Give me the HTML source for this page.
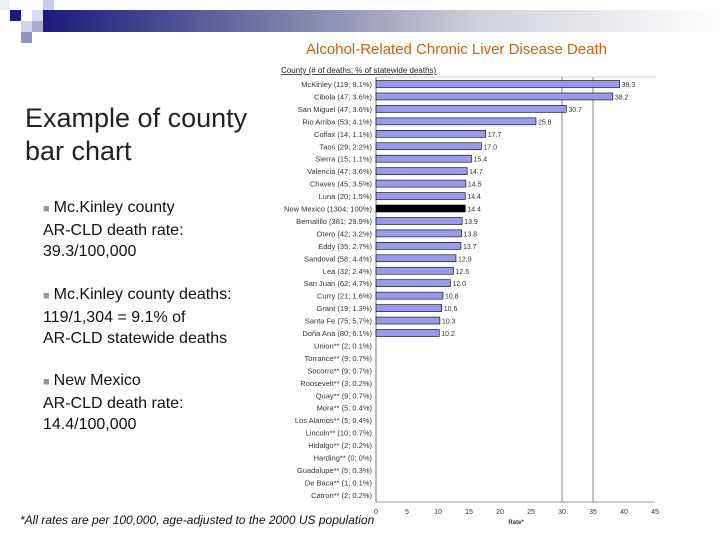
<!DOCTYPE html>
<html><head><meta charset="utf-8">
<style>
body{margin:0;width:720px;height:540px;background:#fff;position:relative;overflow:hidden;font-family:"Liberation Sans",sans-serif}
.abs{position:absolute}
.bul{position:absolute;left:43px;font-size:16px;line-height:21px;color:#111}
.bul span{color:#8a9a9a;font-size:11px;margin-right:4px}
</style></head><body>
<div class="abs" style="left:0;top:0;width:10px;height:10px;background:#eef0f8"></div>
<div class="abs" style="left:10px;top:10px;width:11px;height:11px;background:#1a1a80"></div>
<div class="abs" style="left:43px;top:0;width:11px;height:10px;background:#c8cce4"></div>
<div class="abs" style="left:32px;top:10px;width:11px;height:11px;background:#d8dcee"></div>
<div class="abs" style="left:43px;top:10px;width:11px;height:11px;background:#a0a6d0"></div>
<div class="abs" style="left:21px;top:21px;width:11px;height:11px;background:#d0d4ea"></div>
<div class="abs" style="left:32px;top:21px;width:11px;height:11px;background:#a8acd4"></div>
<div class="abs" style="left:21px;top:32px;width:11px;height:11px;background:#9094c4"></div>
<div class="abs" style="left:43px;top:10px;width:677px;height:22px;background:linear-gradient(90deg,#1a1a7a,#7a7ca8 35%,#d0d2dc 65%,#fff)"></div>
<div class="abs" style="left:306px;top:41px;font-size:15px;color:#d06010">Alcohol-Related Chronic Liver Disease Death</div>
<div class="abs" style="left:25px;top:102px;font-size:27px;line-height:33px;color:#222">Example of county<br>bar chart</div>
<div class="bul" style="top:197px"><span>■</span>Mc.Kinley county<br>AR-CLD death rate:<br>39.3/100,000</div>
<div class="bul" style="top:284px"><span>■</span>Mc.Kinley county deaths:<br>119/1,304 = 9.1% of<br>AR-CLD statewide deaths</div>
<div class="bul" style="top:370px"><span>■</span>New Mexico<br>AR-CLD death rate:<br>14.4/100,000</div>
<div class="abs" style="left:20px;top:513px;font-size:12px;font-style:italic;color:#111">*All rates are per 100,000, age-adjusted to the 2000 US population</div>
<svg class="abs" style="left:0;top:0" width="720" height="540" id="ch"></svg>
<script>
const categories=["McKinley (119; 9.1%)","Cibola (47; 3.6%)","San Miguel (47; 3.6%)","Rio Arriba (53; 4.1%)","Colfax (14; 1.1%)","Taos (29; 2.2%)","Sierra (15; 1.1%)","Valencia (47; 3.6%)","Chaves (45; 3.5%)","Luna (20; 1.5%)","New Mexico (1304; 100%)","Bernalillo (381; 29.9%)","Otero (42; 3.2%)","Eddy (35; 2.7%)","Sandoval (58; 4.4%)","Lea (32; 2.4%)","San Juan (62; 4.7%)","Curry (21; 1.6%)","Grant (19; 1.3%)","Santa Fe (75; 5.7%)","Doña Ana (80; 6.1%)","Union** (2; 0.1%)","Torrance** (9; 0.7%)","Socorro** (9; 0.7%)","Roosevelt** (3; 0.2%)","Quay** (9; 0.7%)","Mora** (5; 0.4%)","Los Alamos** (5; 0.4%)","Lincoln** (10; 0.7%)","Hidalgo** (2; 0.2%)","Harding** (0; 0%)","Guadalupe** (5; 0.3%)","De Baca** (1; 0.1%)","Catron** (2; 0.2%)"];
const values=[39.3,38.2,30.7,25.8,17.7,17.0,15.4,14.7,14.5,14.4,14.4,13.9,13.8,13.7,12.9,12.5,12.0,10.8,10.6,10.3,10.2,null,null,null,null,null,null,null,null,null,null,null,null,null];
const ticks=[0,5,10,15,20,25,30,35,40,45];
const grid=[30,35];
const ns="http://www.w3.org/2000/svg",svg=document.getElementById("ch");
const x0=376,ppu=6.2,y0=84,step=12.45;
const X=v=>x0+v*ppu, Y=i=>y0+i*step;
function el(t,a,txt){const e=document.createElementNS(ns,t);for(const k in a)e.setAttribute(k,a[k]);if(txt!=null)e.textContent=txt;svg.appendChild(e);return e;}
let t=el("text",{x:281,y:73,"font-size":8,fill:"#222","text-decoration":"underline"},"County (# of deaths; % of statewide deaths)");

grid.forEach(g=>{const l=el("line",{x1:X(g),x2:X(g),y1:77,y2:502,stroke:"#888","stroke-width":1});
});
el("line",{x1:376,x2:656,y1:77,y2:77,stroke:"#aaa","stroke-width":0.6});
let ax=el("line",{x1:x0,x2:x0,y1:77,y2:502,stroke:"#777","stroke-width":1});

let bx=el("line",{x1:x0,x2:X(45),y1:502,y2:502,stroke:"#999","stroke-width":1});

ticks.forEach(v=>{const tt=el("text",{x:X(v),y:514,"font-size":7,fill:"#333","text-anchor":"middle"},String(v));
});
let xt=el("text",{x:516,y:524,"font-size":6,fill:"#333","text-anchor":"middle","font-weight":"bold"},"Rate*");

categories.forEach((c,i)=>{
 const lab=el("text",{x:372,y:Y(i)+3,"font-size":7.5,fill:"#333","text-anchor":"end"},c);
 
 const v=values[i];
 if(v!=null){
  const nm=i===10;
  const r=el("rect",{x:x0,y:Y(i)-3.5,width:X(v)-x0,height:7,fill:nm?"#000":"#9a9aea",stroke:"#000","stroke-width":0.6});
  
  const vl=el("text",{x:X(v)+2,y:Y(i)+3,"font-size":7,fill:"#333"},v.toFixed(1));
  
 }
});
</script>
</body></html>
